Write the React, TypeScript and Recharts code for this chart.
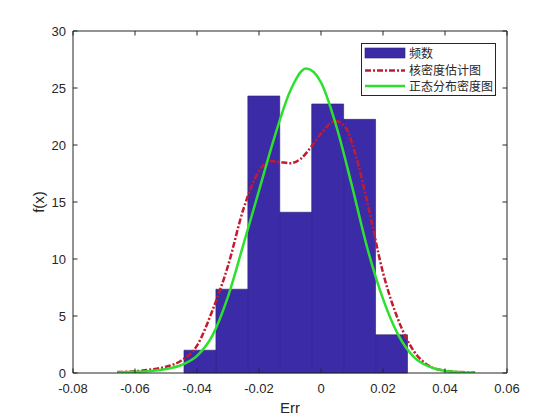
import React from "react";
import { ComposedChart, Line, XAxis, YAxis, ReferenceArea, Legend } from "recharts";

const X_TICKS = [-0.08, -0.06, -0.04, -0.02, 0, 0.02, 0.04, 0.06];
const X_TICK_LABELS = ["-0.08", "-0.06", "-0.04", "-0.02", "0", "0.02", "0.04", "0.06"];
const Y_TICKS = [0, 5, 10, 15, 20, 25, 30];

// histogram (频数)
const BIN_EDGES = [-0.0442, -0.0339, -0.0236, -0.0133, -0.003, 0.0073, 0.0176, 0.0279];
const BIN_HEIGHTS = [2.0, 7.35, 24.3, 14.1, 23.6, 22.25, 3.35];

// 核密度估计图
const KDE_X = [
  -0.0657, -0.06, -0.055, -0.05, -0.045, -0.04, -0.035, -0.03, -0.025, -0.02, -0.0165, -0.013, -0.01,
  -0.0065, -0.003, 0, 0.0045, 0.008, 0.011, 0.015, 0.02, 0.025, 0.03, 0.035, 0.04, 0.045, 0.0497,
];
const KDE_Y = [
  0.08, 0.15, 0.3, 0.55, 1.1, 2.4, 5.5, 9.4, 14.4, 17.7, 18.6, 18.5, 18.4, 18.8, 19.9, 21.0, 22.1, 21.5,
  19.3, 14.9, 8.8, 4.6, 1.9, 0.6, 0.2, 0.08, 0.04,
];

// 正态分布密度图
const NORM_X = [
  -0.0657, -0.06, -0.055, -0.05, -0.045, -0.04, -0.035, -0.03, -0.025, -0.02, -0.015, -0.01, -0.0048,
  0, 0.005, 0.01, 0.015, 0.02, 0.025, 0.03, 0.035, 0.04, 0.045, 0.0497,
];
const NORM_Y = [
  0.04, 0.1, 0.18, 0.35, 0.7, 1.5, 3.3, 6.7, 11.3, 16.0, 20.7, 24.7, 26.7, 25.5, 21.6, 16.4, 10.9, 6.5,
  3.3, 1.4, 0.55, 0.18, 0.07, 0.03,
];

const LEGEND_LABELS = ["频数", "核密度估计图", "正态分布密度图"];

const AXIS_COLOR = "#262626";
const BAR_FILL = "#3b2ba6";
const KDE_COLOR = "#c41a30";
const NORM_COLOR = "#2ee02e";
const TICK_FONT = "'Liberation Sans', Arial, sans-serif";

const kdeData = KDE_X.map((x, i) => ({ x, y: KDE_Y[i] }));
const normData = NORM_X.map((x, i) => ({ x, y: NORM_Y[i] }));

function BottomTick({ x, y, payload }: any) {
  const i = X_TICKS.indexOf(payload.value);
  return (
    <g>
      <line x1={x} x2={x} y1={y} y2={y - 4.5} stroke={AXIS_COLOR} />
      <text x={x} y={y + 19.5} textAnchor="middle" fill={AXIS_COLOR} fontSize={13} fontFamily={TICK_FONT}>
        {X_TICK_LABELS[i]}
      </text>
    </g>
  );
}

function TopTick({ x, y }: any) {
  return <line x1={x} x2={x} y1={y} y2={y + 4.5} stroke={AXIS_COLOR} />;
}

function LeftTick({ x, y, payload }: any) {
  return (
    <g>
      <line x1={x} x2={x + 4.5} y1={y} y2={y} stroke={AXIS_COLOR} />
      <text x={x - 7} y={y + 4.6} textAnchor="end" fill={AXIS_COLOR} fontSize={13} fontFamily={TICK_FONT}>
        {payload.value}
      </text>
    </g>
  );
}

function RightTick({ x, y }: any) {
  return <line x1={x} x2={x - 4.5} y1={y} y2={y} stroke={AXIS_COLOR} />;
}

function LegendBox() {
  return (
    <svg width={135} height={53} style={{ display: "block" }}>
      <rect x={0.5} y={0.5} width={134} height={52} fill="#fff" stroke={AXIS_COLOR} />
      <rect x={4} y={5} width={40} height={10} fill={BAR_FILL} stroke="#2a2070" strokeWidth={0.6} />
      <line x1={4} x2={44} y1={27.5} y2={27.5} stroke={KDE_COLOR} strokeWidth={2.5} strokeDasharray="6 2 2 2" />
      <line x1={4} x2={44} y1={43} y2={43} stroke={NORM_COLOR} strokeWidth={2.5} />
      {LEGEND_LABELS.map((t, i) => (
        <text
          key={t}
          x={48}
          y={[14.5, 32, 47.5][i]}
          fontSize={12}
          fill={AXIS_COLOR}
          fontFamily="'Noto Sans CJK SC', sans-serif"
        >
          {t}
        </text>
      ))}
    </svg>
  );
}

const axisCommon = {
  type: "number" as const,
  interval: 0 as const,
  allowDataOverflow: true,
  tickSize: 0,
  tickMargin: 0,
  tickLine: false,
  axisLine: { stroke: AXIS_COLOR },
};

export default function App() {
  return (
    <div style={{ position: "absolute", left: 0, top: 0, width: 560, height: 420, background: "#fff" }}>
      <ComposedChart width={560} height={420} margin={{ top: 30, right: 52, bottom: 46, left: 72 }}>
        <XAxis
          {...axisCommon}
          xAxisId="b"
          dataKey="x"
          domain={[-0.08, 0.06]}
          ticks={X_TICKS}
          height={1}
          tick={<BottomTick />}
        />
        <XAxis
          {...axisCommon}
          xAxisId="t"
          orientation="top"
          dataKey="x"
          domain={[-0.08, 0.06]}
          ticks={X_TICKS}
          height={1}
          tick={<TopTick />}
        />
        <YAxis {...axisCommon} yAxisId="l" domain={[0, 30]} ticks={Y_TICKS} width={1} tick={<LeftTick />} />
        <YAxis
          {...axisCommon}
          yAxisId="r"
          orientation="right"
          domain={[0, 30]}
          ticks={Y_TICKS}
          width={1}
          tick={<RightTick />}
        />
        {BIN_HEIGHTS.map((h, i) => (
          <ReferenceArea
            key={i}
            xAxisId="b"
            yAxisId="l"
            x1={BIN_EDGES[i]}
            x2={BIN_EDGES[i + 1]}
            y1={0}
            y2={h}
            fill={BAR_FILL}
            fillOpacity={1}
            stroke="#2a2070"
            strokeWidth={0.6}
            strokeOpacity={1}
          />
        ))}
        <Line
          xAxisId="b"
          yAxisId="l"
          data={kdeData}
          dataKey="y"
          type="monotone"
          stroke={KDE_COLOR}
          strokeWidth={2.5}
          strokeDasharray="6 2 2 2"
          dot={false}
          activeDot={false}
          isAnimationActive={false}
        />
        <Line
          xAxisId="b"
          yAxisId="l"
          data={normData}
          dataKey="y"
          type="monotone"
          stroke={NORM_COLOR}
          strokeWidth={2.5}
          dot={false}
          activeDot={false}
          isAnimationActive={false}
        />
        <Legend
          layout="vertical"
          align="center"
          verticalAlign="middle"
          wrapperStyle={{ left: 361, top: 43, width: 135 }}
          content={() => <LegendBox />}
        />
        <text x={290} y={413} textAnchor="middle" fontSize={15} fill={AXIS_COLOR} fontFamily={TICK_FONT}>
          Err
        </text>
        <text
          x={44}
          y={202}
          textAnchor="middle"
          fontSize={15}
          fill={AXIS_COLOR}
          fontFamily={TICK_FONT}
          transform="rotate(-90 44 202)"
        >
          f(x)
        </text>
      </ComposedChart>
    </div>
  );
}
